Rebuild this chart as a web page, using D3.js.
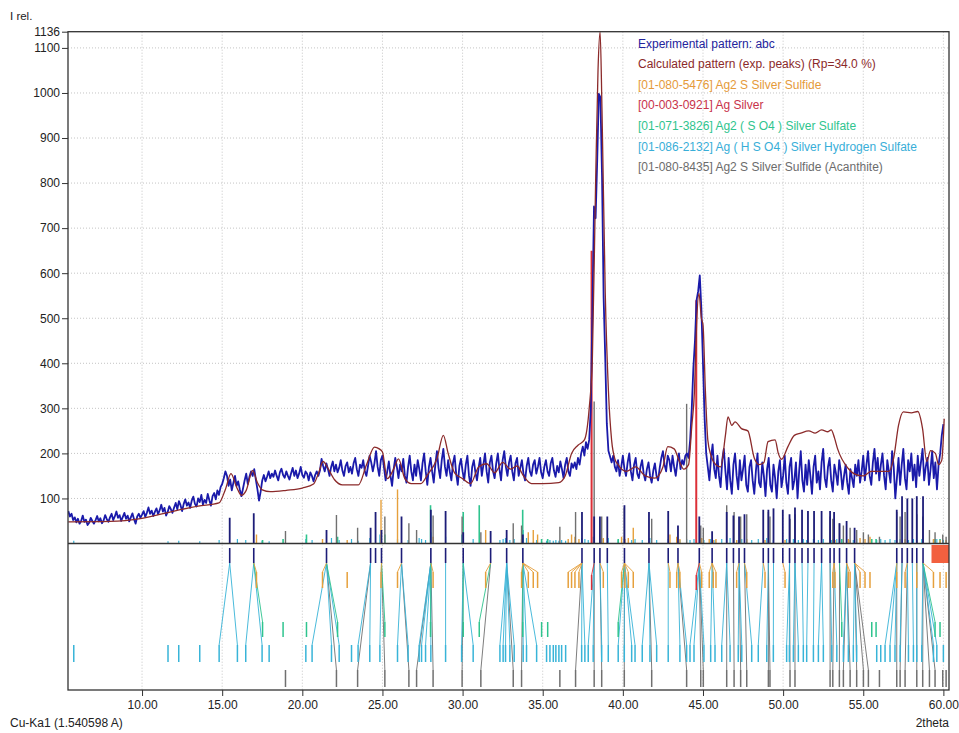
<!DOCTYPE html>
<html><head><meta charset="utf-8">
<script src="https://cdn.jsdelivr.net/npm/d3@7"></script>
<style>
body{margin:0;background:#fff;}
svg{display:block;font-family:"Liberation Sans",Arial,sans-serif;}
</style></head><body>
<svg id="c" width="959" height="733"></svg>
<script>
// ---------- DATA ----------
const expStart = 5.4, expStep = 0.1;
const expI = [
72,60,66,52,58,47,
55,44,50,62,48,53,41,46,57,50,
44,52,61,49,56,45,51,63,54,48,
58,66,52,60,71,57,63,50,59,68,
55,62,49,58,67,54,44,60,66,57,
64,72,59,68,80,66,73,61,70,78,
65,74,86,71,79,62,70,83,76,68,
80,90,76,94,85,72,88,98,84,91,
79,95,104,88,82,100,92,108,86,97,
90,110,96,84,105,112,98,118,108,125,
132,145,160,150,128,142,118,135,150,128,
138,120,105,122,140,155,132,148,160,150,
165,142,120,95,115,140,152,138,148,160,
145,155,148,162,150,140,158,166,152,146,
160,150,142,156,168,150,162,145,155,170,
152,146,160,155,140,158,150,138,152,160,
150,162,188,172,160,178,165,150,170,182,
160,175,158,168,185,162,150,172,180,158,
170,155,178,190,165,150,175,168,185,160,
150,172,195,180,160,178,205,170,150,185,
195,168,140,160,182,150,128,165,190,170,
145,175,160,188,150,135,170,195,160,140,
175,150,185,165,140,178,200,160,130,170,
190,160,135,175,205,168,145,185,210,170,
150,185,160,140,178,195,155,130,172,188,
160,140,175,195,150,128,170,185,158,140,
168,190,150,175,200,160,135,180,195,160,
145,178,200,165,140,185,205,170,150,180,
195,160,140,178,190,150,168,185,155,140,
172,190,160,150,175,185,155,170,190,158,
145,170,185,160,150,178,190,162,148,172,
158,182,165,145,175,190,160,150,178,168,
180,165,190,175,200,215,195,225,210,230,
300,516,748,722,850,998,990,817,546,414,
266,206,193,180,195,170,160,185,150,170,
195,165,150,180,200,160,140,175,190,155,
145,170,185,155,140,165,180,150,135,162,
178,150,140,168,190,205,175,160,195,185,
160,195,170,150,180,200,165,185,175,195,
200,190,230,300,390,450,540,560,595,520,
400,280,200,170,140,190,220,165,145,195,
150,125,185,210,160,120,190,140,110,175,
200,150,120,185,140,165,195,130,115,170,
185,140,110,160,200,135,125,180,150,105,
165,190,130,115,175,145,100,160,185,125,
150,195,135,110,170,190,120,140,180,100,
160,205,140,115,175,130,185,150,110,170,
195,135,160,120,180,210,145,125,170,190,
140,115,175,155,130,185,160,120,150,175,
135,110,165,145,125,175,150,185,135,160,
195,140,175,205,150,130,180,210,155,190,
140,175,200,150,120,185,160,135,205,170,
100,145,190,130,175,210,145,120,185,160,
200,140,175,125,195,150,180,210,140,170,
190,130,165,205,145,180,120,175,200,240,
265];

const calcPattern = [[5.4,48],[8,49],[10,56],[12,72],[13.5,83],[14.8,90],[15.2,120],[15.55,155],[15.9,125],[16.2,107],[16.5,118],[16.9,162],[17.2,135],[17.5,119],[18,115],[19,118],[20,123],[20.7,132],[21.0,155],[21.3,182],[21.6,167],[22.0,142],[22.5,130],[23.5,130],[24.0,174],[24.5,214],[24.8,210],[25.0,203],[25.3,144],[25.7,165],[26.0,188],[26.4,144],[26.8,133],[27.4,133],[27.8,152],[28.4,188],[28.8,240],[29.1,200],[29.5,157],[30.0,144],[30.5,133],[31.0,170],[31.5,177],[32.0,157],[32.5,180],[33.0,165],[33.4,172],[33.8,150],[34.3,133],[35.0,133],[36.0,135],[36.4,150],[36.8,200],[37.2,218],[37.6,230],[37.9,300],[38.1,414],[38.3,800],[38.45,1050],[38.58,1136],[38.7,960],[38.9,559],[39.1,339],[39.3,229],[39.5,188],[39.7,175],[40.2,160],[40.8,170],[41.4,150],[42.0,145],[42.5,170],[42.8,215],[43.2,210],[43.5,185],[43.8,165],[44.1,175],[44.3,260],[44.47,339],[44.6,486],[44.75,555],[44.9,500],[45.0,486],[45.15,339],[45.3,230],[45.5,195],[45.8,175],[46.1,170],[46.4,240],[46.56,281],[46.8,262],[47.0,270],[47.4,255],[47.8,250],[48.2,190],[48.5,175],[48.8,180],[49.06,226],[49.5,230],[49.7,200],[49.9,187],[50.3,215],[50.7,240],[51.1,245],[51.6,250],[52.0,245],[52.4,252],[52.8,248],[53.0,252],[53.2,235],[53.4,210],[54.05,167],[54.47,154],[55.0,150],[55.5,160],[56.6,160],[56.9,190],[57.2,262],[57.5,292],[58.0,290],[58.4,293],[58.7,255],[58.96,182],[59.2,206],[59.5,200],[59.7,175],[59.9,185],[60.05,277]];

// experimental peak positions [2theta, rel. intensity]
const expPeaks = [[15.47,57],[16.97,67],[21.51,30],[24.26,35],[24.57,70],[24.94,30],[26.19,60],[28.02,75],[28.94,72],[30.04,25],[31.75,28],[32.75,30],[33.76,20],[37.45,70],[38.21,60],[38.57,60],[39.03,60],[40.10,85],[41.63,70],[42.83,72],[43.44,40],[44.77,60],[45.57,27],[46.48,70],[46.90,62],[47.25,60],[47.59,65],[48.76,75],[49.08,75],[49.40,78],[49.98,75],[50.40,65],[50.74,80],[51.18,75],[51.55,72],[51.93,72],[52.40,72],[52.93,72],[53.18,70],[53.52,45],[53.96,50],[54.46,35],[57.09,75],[57.42,105],[57.75,100],[58.06,100],[58.34,105],[58.73,105]];

// phase peak lists [2theta, rel. intensity]
const peaksAg2S = [[17.14,20],[21.26,10],[22.80,8],[24.91,97],[25.94,120],[28.16,15],[31.44,30],[33.68,10],[34.10,25],[34.41,30],[34.68,20],[36.59,10],[36.80,20],[37.01,15],[37.26,10],[38.78,12],[39.92,15],[40.13,10],[40.34,12],[40.65,35],[42.94,20],[43.36,15],[43.56,10],[44.92,12],[45.39,10],[45.64,8],[45.81,10],[47.10,8],[47.73,10],[48.87,8],[50.12,8],[53.10,10],[53.24,8],[54.07,10],[54.18,8],[54.80,12],[55.11,10],[55.42,15],[57.09,8],[57.61,10],[58.34,8],[59.38,10],[59.79,8],[60.17,8]];
const peaksAg = [[38.05,650],[44.58,540]];
const peaksAg2SO4 = [[17.52,8],[18.80,10],[20.26,20],[22.20,15],[25.15,20],[28.00,85],[30.04,70],[31.04,85],[33.75,75],[34.93,10],[35.31,10],[39.71,10],[53.66,10],[55.53,10],[55.80,10],[59.48,10],[59.79,10]];
const peaksAgHSO4 = [[5.74,6],[11.62,5],[12.29,6],[13.60,5],[14.81,8],[15.95,10],[16.47,8],[17.49,6],[17.93,5],[20.22,10],[20.61,8],[21.82,12],[22.30,8],[23.07,10],[23.48,6],[24.21,12],[24.84,20],[25.94,10],[26.60,8],[27.29,12],[27.44,10],[27.69,8],[28.02,25],[28.94,15],[29.94,20],[30.66,10],[32.33,8],[32.53,10],[32.68,12],[32.95,8],[33.22,10],[33.78,30],[33.99,12],[34.62,8],[35.24,6],[35.45,8],[35.66,6],[35.82,8],[36.01,6],[36.18,8],[36.43,6],[37.43,12],[37.63,10],[37.84,8],[38.15,15],[38.68,10],[39.09,12],[39.71,8],[40.09,10],[40.55,8],[40.76,10],[41.21,8],[41.69,12],[42.11,8],[42.83,10],[43.56,8],[43.98,10],[44.19,8],[44.44,10],[45.06,8],[45.48,10],[45.75,8],[46.17,10],[46.69,12],[47.20,8],[47.42,10],[48.04,8],[48.45,10],[48.98,12],[49.39,8],[50.22,10],[50.39,8],[50.64,10],[50.95,8],[51.26,10],[51.47,8],[51.89,10],[52.20,8],[52.51,10],[53.03,8],[53.35,10],[53.76,8],[54.07,10],[54.38,8],[54.59,10],[55.84,8],[56.09,10],[56.36,8],[56.67,10],[56.98,8],[57.30,10],[57.82,8],[58.13,10],[58.34,8],[58.65,10],[59.38,8],[59.59,10],[60.00,8]];
const peaksAcanthite = [[18.95,28],[22.13,63],[23.45,35],[25.15,60],[26.65,45],[27.13,30],[28.16,62],[29.97,60],[31.14,25],[33.16,45],[33.68,40],[36.07,37],[37.05,70],[38.21,315],[38.68,60],[40.09,80],[41.80,55],[43.98,310],[44.86,40],[45.02,35],[46.48,85],[46.94,70],[47.35,60],[47.73,65],[49.08,70],[49.18,60],[50.43,55],[50.74,65],[52.93,60],[53.10,55],[53.51,45],[53.76,40],[54.18,35],[54.59,30],[55.01,25],[55.32,20],[56.01,15],[57.09,70],[57.30,60],[57.61,70],[58.34,65],[58.71,60],[59.13,30],[59.48,25],[59.96,20],[60.17,15]];

const xTicks = [10,15,20,25,30,35,40,45,50,55,60];
const yTicks = [100,200,300,400,500,600,700,800,900,1000,1100,1136];
const legendLabels = [
  "Experimental pattern: abc",
  "Calculated pattern (exp. peaks) (Rp=34.0 %)",
  "[01-080-5476] Ag2 S Silver Sulfide",
  "[00-003-0921] Ag Silver",
  "[01-071-3826] Ag2 ( S O4 ) Silver Sulfate",
  "[01-086-2132] Ag ( H S O4 ) Silver Hydrogen Sulfate",
  "[01-080-8435] Ag2 S Silver Sulfide (Acanthite)"
];
const legendColors = ["#23239c","#8b2a2a","#e59a3a","#c8324a","#2fc48e","#38aed8","#6c6c6c"];

// ---------- LAYOUT ----------
const svg = d3.select("#c");
const L = 68, R = 949, T = 31.7, Y0 = 543.5, B = 690;
const x = d3.scaleLinear().domain([5.38, 60.35]).range([L, R]);
const y = d3.scaleLinear().domain([0, 1136]).range([Y0, T]);

const C = {exp:"#1a1aaa", calc:"#8b2a2a", navy:"#1d1d78", orange:"#e6a03c", ag:"#dc3038",
           teal:"#2fc48e", cyan:"#38b4d8", gray:"#707070"};

svg.append("defs").append("clipPath").attr("id","clip")
  .append("rect").attr("x",L).attr("y",T-2).attr("width",R-L).attr("height",Y0-T+2);

// grid
const grid = svg.append("g");
grid.selectAll("line.h").data(yTicks.filter(d=>d!==1136)).join("line")
  .attr("x1",L).attr("x2",R).attr("y1",d=>y(d)).attr("y2",d=>y(d))
  .attr("stroke","#c4c4c4").attr("stroke-dasharray","1,2");
grid.selectAll("line.v").data(xTicks).join("line")
  .attr("x1",d=>x(d)).attr("x2",d=>x(d)).attr("y1",T).attr("y2",B)
  .attr("stroke","#c4c4c4").attr("stroke-dasharray","1,2");

// ---------- MAIN PLOT ----------
const main = svg.append("g").attr("clip-path","url(#clip)");
function sticks(data, color, w){
  main.append("g").selectAll("line").data(data).join("line")
    .attr("x1",d=>x(d[0])).attr("x2",d=>x(d[0]))
    .attr("y1",y(0)).attr("y2",d=>y(d[1]))
    .attr("stroke",color).attr("stroke-width",w);
}
sticks(peaksAgHSO4, C.cyan, 1.2);
sticks(peaksAg2SO4, C.teal, 1.6);
sticks(peaksAg2S, C.orange, 1.4);
sticks(peaksAcanthite, C.gray, 1.4);
sticks(expPeaks, C.navy, 1.8);
sticks(peaksAg, C.ag, 2);

const expData = expI.map((v,i)=>[expStart + i*expStep, v]);
const line = d3.line().x(d=>x(d[0])).y(d=>y(d[1]));
main.append("path").datum(expData).attr("d", line)
  .attr("fill","none").attr("stroke",C.exp).attr("stroke-width",1.8).attr("stroke-linejoin","round");
main.append("path").datum(calcPattern).attr("d", d3.line().x(d=>x(d[0])).y(d=>y(d[1])).curve(d3.curveMonotoneX))
  .attr("fill","none").attr("stroke",C.calc).attr("stroke-width",1.3);

// ---------- LOWER PANEL ----------
const low = svg.append("g");
const linkTop = 563;
const rows = [
  {data:peaksAcanthite, color:C.gray,   top:670, bot:687},
  {data:peaksAgHSO4,    color:C.cyan,   top:645, bot:662},
  {data:peaksAg2SO4,    color:C.teal,   top:622, bot:637},
  {data:peaksAg2S,      color:C.orange, top:572, bot:588},
  {data:peaksAg,        color:C.ag,     top:575, bot:590}
];
const expPos = expPeaks.map(d=>d[0]);
function nearestExp(t){
  let best=null, bd=1e9;
  expPos.forEach(e=>{const dd=Math.abs(e-t); if(dd<bd){bd=dd;best=e;}});
  return bd<=0.94 ? best : null;
}
rows.forEach(r=>{
  const links = r.data.map(d=>({p:d[0], e:nearestExp(d[0])})).filter(d=>d.e!==null && d.p<=60.35);
  low.append("g").selectAll("line").data(links).join("line")
    .attr("x1",d=>x(d.e)).attr("y1",linkTop).attr("x2",d=>x(d.p)).attr("y2",r.top)
    .attr("stroke",r.color).attr("stroke-width",1).attr("opacity",0.9);
});
rows.forEach(r=>{
  low.append("g").selectAll("line").data(r.data.filter(d=>d[0]<=60.3)).join("line")
    .attr("x1",d=>x(d[0])).attr("x2",d=>x(d[0])).attr("y1",r.top).attr("y2",r.bot)
    .attr("stroke",r.color).attr("stroke-width",1.5);
});
low.append("g").selectAll("line").data(expPeaks).join("line")
  .attr("x1",d=>x(d[0])).attr("x2",d=>x(d[0])).attr("y1",548).attr("y2",linkTop)
  .attr("stroke",C.navy).attr("stroke-width",1.6);
low.append("rect").attr("x",931.5).attr("y",545).attr("width",R-931.5).attr("height",18).attr("fill","#f2603f");

// ---------- FRAME & AXES ----------
svg.append("line").attr("x1",L).attr("x2",R).attr("y1",Y0).attr("y2",Y0).attr("stroke","#333").attr("stroke-width",1.6);
svg.append("rect").attr("x",L).attr("y",T).attr("width",R-L).attr("height",B-T)
  .attr("fill","none").attr("stroke","#333").attr("stroke-width",1.3);

const yAxis = svg.append("g").attr("transform",`translate(${L},0)`)
  .call(d3.axisLeft(y).tickValues(yTicks).tickSize(6).tickPadding(2).tickFormat(d3.format("d")));
const xAxis = svg.append("g").attr("transform",`translate(0,${B})`)
  .call(d3.axisBottom(x).tickValues(xTicks).tickSize(6).tickPadding(4).tickFormat(d3.format(".2f")));
[yAxis,xAxis].forEach(a=>{
  a.select(".domain").remove();
  a.selectAll("line").attr("stroke","#333");
  a.selectAll("text").attr("font-size",12).attr("fill","#222").attr("font-family","'Liberation Sans',Arial,sans-serif");
});

svg.append("text").attr("x",10).attr("y",20).attr("font-size",11.5).attr("fill","#222").text("I rel.");
svg.append("text").attr("x",10).attr("y",727).attr("font-size",12).attr("fill","#222").text("Cu-Ka1 (1.540598 A)");
svg.append("text").attr("x",R).attr("y",727).attr("text-anchor","end").attr("font-size",12).attr("fill","#222").text("2theta");

// legend
svg.append("g").selectAll("text").data(legendLabels).join("text")
  .attr("x",638).attr("y",(d,i)=>47.6 + i*20.6)
  .attr("font-size",12).attr("fill",(d,i)=>legendColors[i]).text(d=>d);
</script>
</body></html>
